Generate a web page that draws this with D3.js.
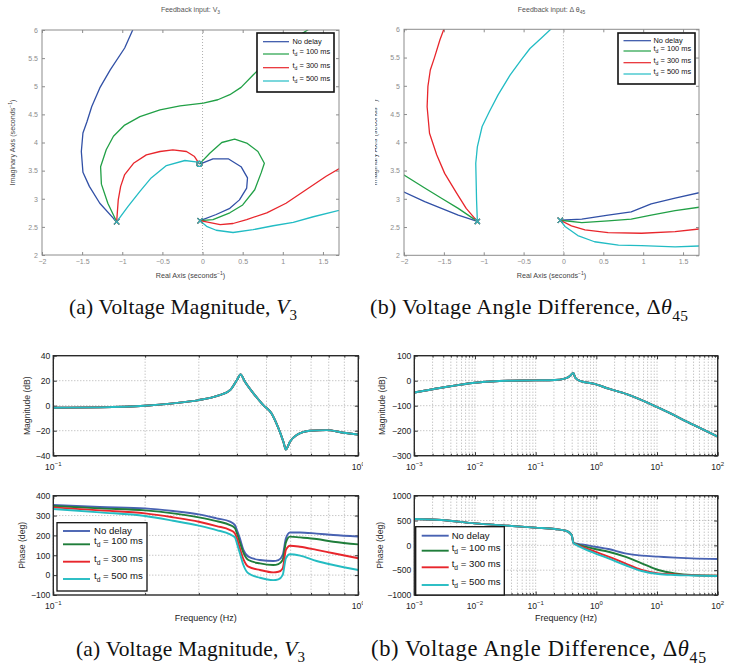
<!DOCTYPE html>
<html>
<head>
<meta charset="utf-8">
<script src="https://cdn.jsdelivr.net/npm/d3@7"></script>
<style>
  body { margin: 0; background: #fff; }
  svg { display: block; font-family: "Liberation Sans", Arial, sans-serif; }
</style>
</head>
<body>
<svg id="fig" width="749" height="665"></svg>
<script>
// ---------- data ----------
const seriesNames = ['No delay', '100', '300', '500'];

// root locus, feedback input V3 : two branches per delay, [re, im]
const tlNoDelay = [
  [[-1.07,2.59],[-1.28,2.92],[-1.41,3.22],[-1.49,3.47],[-1.51,3.84],[-1.49,4.17],[-1.44,4.37],[-1.38,4.64],[-1.28,4.97],[-1.15,5.29],[-0.97,5.68],[-0.87,6.0],[-0.8,6.3]],
  [[-0.03,2.61],[0.17,2.72],[0.34,2.83],[0.46,2.98],[0.55,3.19],[0.56,3.37],[0.48,3.57],[0.32,3.71],[0.13,3.71],[-0.01,3.63],[-0.04,3.62]]
];
const tl100 = [
  [[-1.07,2.59],[-1.18,2.92],[-1.26,3.26],[-1.27,3.57],[-1.2,3.87],[-1.11,4.11],[-0.97,4.31],[-0.78,4.46],[-0.53,4.58],[-0.28,4.65],[0.01,4.7],[0.19,4.76],[0.34,4.85],[0.48,4.98],[0.63,5.2],[0.8,5.44],[1.04,5.76],[1.31,6.0],[1.5,6.2]],
  [[-0.03,2.61],[0.13,2.63],[0.34,2.75],[0.5,2.89],[0.65,3.16],[0.73,3.46],[0.77,3.63],[0.69,3.84],[0.55,3.99],[0.4,4.06],[0.24,4.0],[0.09,3.81],[-0.01,3.66],[-0.04,3.62]]
];
const tl300 = [
  [[-1.07,2.59],[-1.05,2.98],[-1.02,3.22],[-0.97,3.43],[-0.86,3.63],[-0.7,3.78],[-0.53,3.84],[-0.37,3.87],[-0.2,3.84],[-0.1,3.75],[-0.04,3.62]],
  [[-0.03,2.61],[0.22,2.54],[0.38,2.56],[0.55,2.63],[0.8,2.75],[1.04,2.92],[1.29,3.16],[1.54,3.4],[1.8,3.62]]
];
const tl500 = [
  [[-1.07,2.59],[-0.93,2.86],[-0.78,3.13],[-0.64,3.37],[-0.45,3.59],[-0.22,3.68],[-0.06,3.65],[-0.04,3.62]],
  [[-0.03,2.61],[0.05,2.51],[0.17,2.44],[0.38,2.4],[0.63,2.45],[0.88,2.52],[1.13,2.58],[1.38,2.68],[1.8,2.83]]
];
const tlPoles = [[-1.07,2.59],[-0.03,2.61]];
const tlZeros = [[-0.04,3.62]];

// root locus, feedback input delta theta 45
const trNoDelay = [
  [[-2.1,3.18],[-2,3.12],[-1.74,2.95],[-1.53,2.83],[-1.32,2.71],[-1.08,2.6]],
  [[-0.04,2.62],[0.23,2.64],[0.56,2.71],[0.85,2.77],[1.1,2.91],[1.4,3.01],[1.8,3.14]]
];
const tr100 = [
  [[-2.1,3.5],[-2,3.42],[-1.74,3.19],[-1.53,3.01],[-1.32,2.83],[-1.08,2.6]],
  [[-0.04,2.62],[0.23,2.58],[0.56,2.61],[0.85,2.64],[1.1,2.71],[1.4,2.79],[1.8,2.87]]
];
const tr300 = [
  [[-1.47,6.2],[-1.5,6.0],[-1.55,5.81],[-1.62,5.49],[-1.67,5.28],[-1.7,4.99],[-1.71,4.63],[-1.68,4.16],[-1.59,3.78],[-1.49,3.45],[-1.34,3.1],[-1.22,2.83],[-1.08,2.6]],
  [[-0.04,2.62],[0.1,2.52],[0.27,2.45],[0.56,2.4],[0.98,2.39],[1.4,2.42],[1.8,2.48]]
];
const tr500 = [
  [[-1.08,2.6],[-1.09,2.98],[-1.1,3.63],[-1.08,3.92],[-1.02,4.28],[-0.93,4.54],[-0.82,4.84],[-0.67,5.19],[-0.53,5.46],[-0.42,5.66],[-0.28,5.84],[-0.16,6.0],[-0.05,6.15]],
  [[-0.04,2.62],[0.02,2.51],[0.18,2.35],[0.39,2.24],[0.69,2.18],[0.98,2.17],[1.4,2.15],[1.8,2.17]]
];
const trPoles = [[-1.08,2.6],[-0.04,2.62]];

const rlXTicks = [-2,-1.5,-1,-0.5,0,0.5,1,1.5];
const rlYTicks = [2,2.5,3,3.5,4,4.5,5,5.5,6];

// Bode, V3
const blMagFreq = [0.1,0.142,0.2,0.247,0.3,0.343,0.38,0.4,0.411,0.425,0.453,0.488,0.519,0.547,0.568,0.579,0.597,0.628,0.694,0.787,0.893,1.0];
const blMag     = [-1.6,-1.3,0,1.9,4.5,7.7,12.5,20.5,25,19.2,9.9,0.5,-6.1,-18,-28.8,-35,-28.8,-23.5,-20,-19.5,-21.6,-23];
const blPhFreq  = [0.1,0.142,0.2,0.247,0.3,0.343,0.38,0.394,0.4,0.409,0.42,0.436,0.476,0.526,0.547,0.565,0.579,0.597,0.644,0.73,0.828,1.0];
const blPhNoDelay = [353,343,336,323,306,286,269,252,227,185,127,93,76,71,76,101,185,215,215,209,202,194];
const blPh100     = [348,336,326,311,291,272,252,236,210,165,113,76,59,51,56,76,165,194,190,182,168,155];
const blPh300     = [341,326,311,291,269,247,227,210,185,135,81,43,26,14,17,34,127,148,143,127,110,85];
const blPh500     = [333,316,298,274,249,227,205,190,160,110,51,9,-13,-25,-21,0,85,105,98,71,51,26];

// Bode, delta theta 45
const brMagFreq = [0.001,0.0028,0.01,0.0355,0.097,0.208,0.3,0.368,0.417,0.45,0.55,0.9,1.6,3.16,11,40,100];
const brMag     = [-47,-28,-8,0,1.3,2.7,8,18.7,31,12,-2,-12,-32,-54,-110,-177,-224];
const brPhFreq  = [0.001,0.0028,0.01,0.0354,0.0975,0.2085,0.3245,0.392,0.418,0.445,0.573,0.95,1.58,2.97,5.59,10.5,19.8,37.3,100];
const brPhNoDelay = [530,510,443,396,356,329,289,208,60,40,20,-27,-74,-161,-208,-228,-248,-262,-275];
const brPh100     = [530,510,443,396,356,329,289,208,60,35,-7,-74,-128,-228,-362,-497,-564,-597,-611];
const brPh300     = [530,510,443,396,356,329,289,208,55,30,-27,-128,-228,-362,-497,-564,-584,-600,-611];
const brPh500     = [530,510,443,396,356,329,289,208,50,25,-47,-161,-262,-396,-517,-577,-597,-607,-617];

// ---------- drawing ----------
const svg = d3.select('#fig');
const rlColors = ['#3150a6', '#21a046', '#e8262c', '#22bcc4'];
const bdColors = ['#4862b2', '#1f7d3a', '#e8262c', '#24bcc2'];

function rich(text, parts, fs) {
  let shift = 0;
  parts.forEach(([s, kind]) => {
    const target = kind === 'sup' ? -0.42 : kind === 'sub' ? 0.3 : 0;
    const t = text.append('tspan').text(s).attr('dy', ((target - shift) * fs).toFixed(2));
    if (kind === 'sup' || kind === 'sub') t.attr('font-size', fs * 0.7);
    if (kind === 'i') t.attr('font-style', 'italic');
    shift = target;
  });
}

function legendRows(g, box, names, colors, rows, fs) {
  g.append('rect').attr('x', box.x).attr('y', box.y).attr('width', box.w).attr('height', box.h)
    .attr('fill', '#fff').attr('stroke', '#111').attr('stroke-width', box.sw);
  names.forEach((n, i) => {
    const yy = box.y + rows[i];
    g.append('line').attr('x1', box.x + box.l0).attr('x2', box.x + box.l1).attr('y1', yy).attr('y2', yy)
      .attr('stroke', colors[i]).attr('stroke-width', box.lw);
    const t = g.append('text').attr('x', box.x + box.tx).attr('y', yy).attr('dy', '0.35em')
      .attr('font-size', fs).attr('fill', '#111');
    if (i === 0) t.text(n);
    else rich(t, [['t', ''], ['d', 'sub'], [' = ' + n + ' ms', '']], fs);
  });
}

function rootLocus(cfg) {
  const g = svg.append('g');
  const x = d3.scaleLinear().domain([-2, 1.7]).range([cfg.x0, cfg.x1]);
  const y = d3.scaleLinear().domain([2, 6]).range([cfg.y1, cfg.y0]);
  const id = 'clip' + cfg.id;
  svg.append('clipPath').attr('id', id).append('rect')
    .attr('x', cfg.x0).attr('y', cfg.y0).attr('width', cfg.x1 - cfg.x0).attr('height', cfg.y1 - cfg.y0);

  const fmt = d3.format('~g');
  [[d3.axisBottom(x).tickValues(rlXTicks).tickFormat(fmt), cfg.y1],
   [d3.axisTop(x).tickValues(rlXTicks).tickFormat(''), cfg.y0]].forEach(([ax, pos]) => {
    g.append('g').attr('transform', `translate(0,${pos})`)
      .call(ax.tickSizeInner(-3).tickSizeOuter(0).tickPadding(4))
      .call(s => s.select('.domain').remove());
  });
  [[d3.axisLeft(y).tickValues(rlYTicks).tickFormat(fmt), cfg.x0],
   [d3.axisRight(y).tickValues(rlYTicks).tickFormat(''), cfg.x1]].forEach(([ax, pos]) => {
    g.append('g').attr('transform', `translate(${pos},0)`)
      .call(ax.tickSizeInner(-3).tickSizeOuter(0).tickPadding(4))
      .call(s => s.select('.domain').remove());
  });
  g.selectAll('.tick line').attr('stroke', '#8c8c8c');
  g.selectAll('.tick text').attr('fill', '#8c8c8c').attr('font-size', 7).attr('font-family', 'Liberation Sans, Arial, sans-serif');

  g.append('line').attr('x1', x(0)).attr('x2', x(0)).attr('y1', cfg.y0).attr('y2', cfg.y1)
    .attr('stroke', '#9a9a9a').attr('stroke-width', 0.8).attr('stroke-dasharray', '1,2');

  const line = d3.line().x(d => x(d[0])).y(d => y(d[1])).curve(d3.curveLinear);
  const plot = g.append('g').attr('clip-path', `url(#${id})`);
  cfg.series.forEach((branches, i) => {
    branches.forEach(b => {
      plot.append('path').attr('d', line(b)).attr('fill', 'none')
        .attr('stroke', rlColors[i]).attr('stroke-width', 1.3).attr('stroke-linejoin', 'round');
    });
  });
  cfg.series.forEach((s, i) => {
    cfg.poles.forEach(p => {
      const px = x(p[0]), py = y(p[1]), r = 2.6;
      plot.append('path').attr('d', `M${px - r},${py - r}L${px + r},${py + r}M${px - r},${py + r}L${px + r},${py - r}`)
        .attr('stroke', rlColors[i]).attr('stroke-width', 1.1);
    });
    (cfg.zeros || []).forEach(p => {
      plot.append('circle').attr('cx', x(p[0])).attr('cy', y(p[1])).attr('r', 2.6)
        .attr('fill', 'none').attr('stroke', rlColors[i]).attr('stroke-width', 1.1);
    });
  });

  g.append('rect').attr('x', cfg.x0).attr('y', cfg.y0).attr('width', cfg.x1 - cfg.x0).attr('height', cfg.y1 - cfg.y0)
    .attr('fill', 'none').attr('stroke', '#8c8c8c').attr('stroke-width', 1);

  const cx = (cfg.x0 + cfg.x1) / 2;
  rich(g.append('text').attr('x', cx).attr('y', 12).attr('text-anchor', 'middle')
    .attr('font-size', 7).attr('fill', '#555'), cfg.title, 7);
  rich(g.append('text').attr('x', cx).attr('y', 278).attr('text-anchor', 'middle')
    .attr('font-size', 7.2).attr('fill', '#444'), [['Real Axis (seconds', ''], ['\u22121', 'sup'], [')', '']], 7.2);
  const yl = g.append('g');
  if (cfg.ylClip) {
    svg.append('clipPath').attr('id', id + 'yl').append('rect').attr('x', cfg.ylClip).attr('y', 0).attr('width', 60).attr('height', 300);
    yl.attr('clip-path', `url(#${id}yl)`);
  }
  rich(yl.append('text').attr('transform', `translate(${cfg.ylx},${(cfg.y0 + cfg.y1) / 2}) rotate(-90)`)
    .attr('text-anchor', 'middle').attr('dy', '0.35em').attr('font-size', 7.2).attr('fill', '#444'),
    [['Imaginary Axis (seconds', ''], ['\u22121', 'sup'], [')', '']], 7.2);

  legendRows(g, cfg.legend, seriesNames, rlColors, cfg.legend.rows, 7.4);
}

function supLabel(g, xx, yy, exp, fs) {
  const t = g.append('text').attr('x', xx).attr('y', yy).attr('text-anchor', 'middle')
    .attr('font-size', fs).attr('fill', '#222');
  rich(t, [['10', ''], [exp, 'sup']], fs);
}

function bode(cfg) {
  const g = cfg.g.append('g');
  const x = d3.scaleLog().domain(cfg.xDomain).range([cfg.x0, cfg.x1]);
  const y = d3.scaleLinear().domain(cfg.yDomain).range([cfg.y1, cfg.y0]);
  const fs = 8.6;

  // grid
  cfg.xGrid.forEach(v => {
    g.append('line').attr('x1', x(v)).attr('x2', x(v)).attr('y1', cfg.y0).attr('y2', cfg.y1)
      .attr('stroke', '#9a9a9a').attr('stroke-width', 0.8).attr('stroke-dasharray', '1,2');
  });
  cfg.yTicks.slice(1, -1).forEach(v => {
    g.append('line').attr('x1', cfg.x0).attr('x2', cfg.x1).attr('y1', y(v)).attr('y2', y(v))
      .attr('stroke', '#9a9a9a').attr('stroke-width', 0.8).attr('stroke-dasharray', '1,2');
  });

  // ticks
  [[d3.axisBottom(x), cfg.y1], [d3.axisTop(x), cfg.y0]].forEach(([ax, pos]) => {
    g.append('g').attr('transform', `translate(0,${pos})`)
      .call(ax.tickValues(cfg.xMajor).tickFormat('').tickSizeInner(-3.5).tickSizeOuter(0))
      .call(s => s.select('.domain').remove());
    g.append('g').attr('transform', `translate(0,${pos})`)
      .call(ax.tickValues(cfg.xGrid.filter(v => !cfg.xMajor.includes(v))).tickFormat('').tickSizeInner(-2).tickSizeOuter(0))
      .call(s => s.select('.domain').remove());
  });
  [[d3.axisLeft(y).tickFormat(d3.format('d')), cfg.x0], [d3.axisRight(y).tickFormat(''), cfg.x1]].forEach(([ax, pos]) => {
    g.append('g').attr('transform', `translate(${pos},0)`)
      .call(ax.tickValues(cfg.yTicks).tickSizeInner(-3.5).tickSizeOuter(0).tickPadding(3))
      .call(s => s.select('.domain').remove());
  });
  g.selectAll('.tick line').attr('stroke', '#333');
  g.selectAll('.tick text').attr('fill', '#222').attr('font-size', fs).attr('font-family', 'Liberation Sans, Arial, sans-serif');

  cfg.xMajor.forEach(v => supLabel(g, x(v), cfg.y1 + 14, d3.format('d')(Math.log10(v)).replace('-', '\u2212'), fs));

  const line = d3.line().x(d => x(d[0])).y(d => y(d[1])).curve(d3.curveMonotoneX);
  cfg.series.forEach((vals, i) => {
    g.append('path').attr('d', line(cfg.freq.map((f, k) => [f, vals[k]])))
      .attr('fill', 'none').attr('stroke', bdColors[i]).attr('stroke-width', 1.9).attr('stroke-linejoin', 'round');
  });

  g.append('rect').attr('x', cfg.x0).attr('y', cfg.y0).attr('width', cfg.x1 - cfg.x0).attr('height', cfg.y1 - cfg.y0)
    .attr('fill', 'none').attr('stroke', '#2a2a2a').attr('stroke-width', 1.4);

  g.append('text').attr('transform', `translate(${cfg.ylx},${(cfg.y0 + cfg.y1) / 2}) rotate(-90)`)
    .attr('text-anchor', 'middle').attr('dy', '0.35em').attr('font-size', fs).attr('fill', '#333').text(cfg.ylabel);
  if (cfg.xlabel) {
    g.append('text').attr('x', (cfg.x0 + cfg.x1) / 2).attr('y', cfg.y1 + 26).attr('text-anchor', 'middle')
      .attr('font-size', 9).attr('fill', '#222').text(cfg.xlabel);
  }
  if (cfg.legend) legendRows(g, cfg.legend, seriesNames, bdColors, cfg.legend.rows, 9.6);
}

rootLocus({
  id: 'tl', x0: 42, x1: 339, y0: 30, y1: 255, ylx: 15,
  title: [['Feedback input: V', ''], ['3', 'sub']],
  series: [tlNoDelay, tl100, tl300, tl500], poles: tlPoles, zeros: tlZeros,
  legend: { x: 257, y: 33, w: 77, h: 59, sw: 1.6, l0: 6, l1: 32, tx: 35.5, lw: 1.2, rows: [8.7, 21, 34.7, 48] }
});
rootLocus({
  id: 'tr', x0: 404, x1: 699, y0: 29.3, y1: 255.3, ylx: 377, ylClip: 375,
  title: [['Feedback input: \u0394 \u03b8', ''], ['45', 'sub']],
  series: [trNoDelay, tr100, tr300, tr500], poles: trPoles,
  legend: { x: 618, y: 33, w: 77, h: 51, sw: 1.6, l0: 5.5, l1: 33, tx: 35.5, lw: 1.2, rows: [7.7, 18, 29.7, 41] }
});

// bottom-left subfigure is cropped at its right edge
svg.append('clipPath').attr('id', 'clipBL').append('rect').attr('x', 0).attr('y', 330).attr('width', 363).attr('height', 300);
const gBL = svg.append('g').attr('clip-path', 'url(#clipBL)');
const gBR = svg.append('g');

const decades = [0.001, 0.01, 0.1, 1, 10, 100];
const brGrid = [];
decades.slice(0, -1).forEach(d => { for (let k = 1; k <= 9; k++) brGrid.push(d * k); });
brGrid.push(100);
const blGrid = [0.1, 0.2, 0.3, 0.4, 0.5, 0.6, 0.7, 0.8, 0.9, 1];

bode({ g: gBL, x0: 53.3, x1: 358.3, y0: 355.7, y1: 455.7, xDomain: [0.1, 1], yDomain: [-40, 40],
  yTicks: [-40, -20, 0, 20, 40], xMajor: [0.1, 1], xGrid: blGrid, ylx: 26.5, ylabel: 'Magnitude (dB)',
  freq: blMagFreq, series: [blMag, blMag, blMag, blMag] });
bode({ g: gBL, x0: 53.3, x1: 358.3, y0: 495.7, y1: 595, xDomain: [0.1, 1], yDomain: [-100, 400],
  yTicks: [-100, 0, 100, 200, 300, 400], xMajor: [0.1, 1], xGrid: blGrid, ylx: 21.5, ylabel: 'Phase (deg)',
  xlabel: 'Frequency (Hz)', freq: blPhFreq, series: [blPhNoDelay, blPh100, blPh300, blPh500],
  legend: { x: 57, y: 522.7, w: 90, h: 68.3, sw: 1.3, l0: 6, l1: 33, tx: 37, lw: 1.9, rows: [8.3, 21.6, 39, 56.3] } });
bode({ g: gBR, x0: 414.3, x1: 717.7, y0: 355.7, y1: 455.7, xDomain: [0.001, 100], yDomain: [-300, 100],
  yTicks: [-300, -200, -100, 0, 100], xMajor: decades, xGrid: brGrid, ylx: 381.5, ylabel: 'Magnitude (dB)',
  freq: brMagFreq, series: [brMag, brMag, brMag, brMag] });
bode({ g: gBR, x0: 414.3, x1: 717.7, y0: 495.7, y1: 595, xDomain: [0.001, 100], yDomain: [-1000, 1000],
  yTicks: [-1000, -500, 0, 500, 1000], xMajor: decades, xGrid: brGrid, ylx: 379.5, ylabel: 'Phase (deg)',
  xlabel: 'Frequency (Hz)', freq: brPhFreq, series: [brPhNoDelay, brPh100, brPh300, brPh500],
  legend: { x: 415.7, y: 526.7, w: 88.6, h: 68.3, sw: 1.3, l0: 6, l1: 33, tx: 36, lw: 1.9, rows: [9, 24, 40.6, 58.3] } });

// captions
function caption(xx, yy, parts, fs, len) {
  const t = svg.append('text').attr('x', xx).attr('y', yy).attr('font-size', fs)
    .attr('font-family', 'Liberation Serif, Times New Roman, serif').attr('fill', '#111')
    .attr('textLength', len).attr('lengthAdjust', 'spacing');
  rich(t, parts, fs);
}
const capA = [['(a) Voltage Magnitude, ', ''], ['V', 'i'], ['3', 'sub']];
const capB = [['(b) Voltage Angle Difference, \u0394', ''], ['\u03b8', 'i'], ['45', 'sub']];
caption(69, 314, capA, 21.5, 228);
caption(370, 314, capB, 22, 318);
caption(76, 656, capA, 21.5, 229);
caption(371, 656, capB, 22.5, 335);
</script>
</body>
</html>
